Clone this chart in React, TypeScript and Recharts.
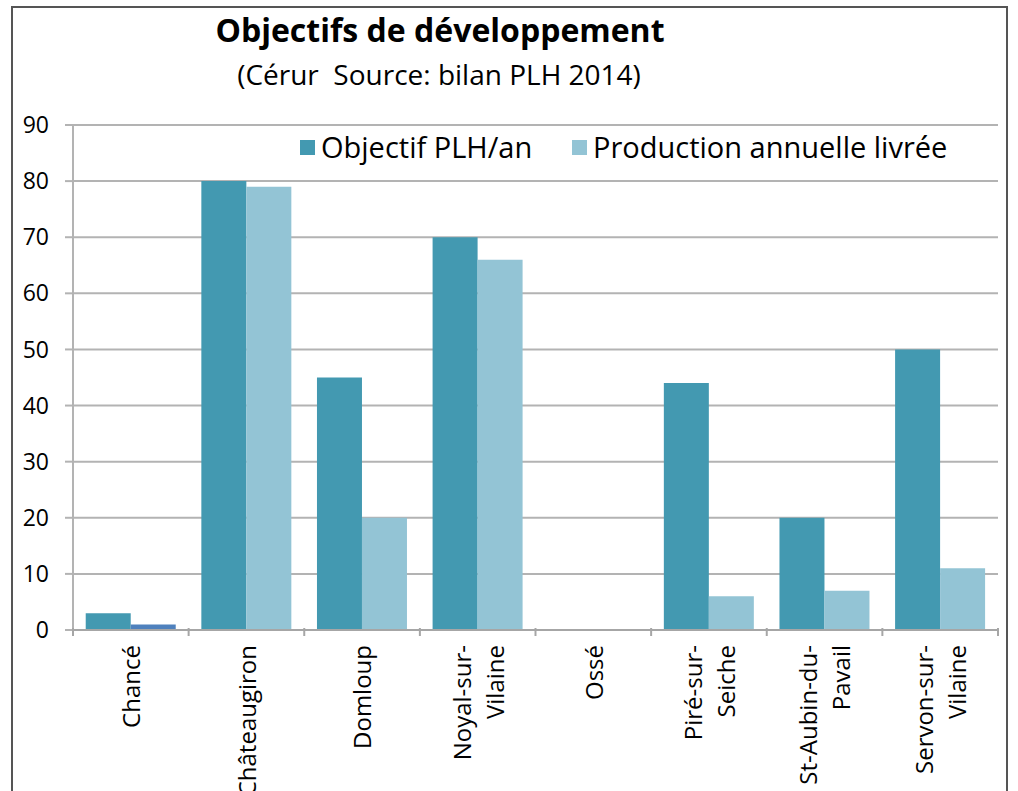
import { BarChart, Bar, XAxis, YAxis, CartesianGrid, Cell } from "recharts";

const communes = [
  "Chancé",
  "Châteaugiron",
  "Domloup",
  "Noyal-sur-\nVilaine",
  "Ossé",
  "Piré-sur-\nSeiche",
  "St-Aubin-du-\nPavail",
  "Servon-sur-\nVilaine",
];
const objectif = [3, 80, 45, 70, 0, 44, 20, 50];
const production = [1, 79, 20, 66, 0, 6, 7, 11];
const yTicks = [0, 10, 20, 30, 40, 50, 60, 70, 80, 90];

const FONT = "'Open Sans', sans-serif";
const DARK = "#4399B1";
const LIGHT = "#93C4D5";
const ODD = "#4F81BD";

const W = 1018;
const H = 800;
const M = { top: 125, right: 20, left: 0, bottom: 0 };
const Y_W = 73;
const X_H = H - M.top - M.bottom - 505;
const STEP = (W - M.left - M.right - Y_W) / communes.length;

const data = communes.map((name, i) => ({
  name,
  objectif: objectif[i],
  production: production[i],
}));

const CategoryTick = (props: any) => {
  const { x, y, payload, index } = props;
  const lines: string[] = String(payload.value).split("\n");
  const lh = 33;
  return (
    <g>
      <line x1={x - STEP / 2} x2={x - STEP / 2} y1={y - 10} y2={y - 2} stroke="#A6A6A6" strokeWidth={2} />
      {index === communes.length - 1 && (
        <line x1={x + STEP / 2} x2={x + STEP / 2} y1={y - 10} y2={y - 2} stroke="#A6A6A6" strokeWidth={2} />
      )}
      <g transform={`translate(${x + 1},${y + 7})`}>
        <text transform="rotate(-90)" textAnchor="end" fontFamily={FONT} fontSize={24} fill="#000">
          {lines.map((l, i) => (
            <tspan key={i} x={0} y={(i - (lines.length - 1) / 2) * lh} dy="0.35em">
              {l}
            </tspan>
          ))}
        </text>
      </g>
    </g>
  );
};

const legendItem = (left: number, color: string, label: string) => (
  <div
    style={{
      position: "absolute",
      left,
      top: 131,
      display: "flex",
      alignItems: "center",
      fontFamily: FONT,
      fontSize: 29,
      color: "#000",
      lineHeight: "32px",
      whiteSpace: "nowrap",
    }}
  >
    <span style={{ width: 15, height: 15, background: color, marginRight: 6 }} />
    {label}
  </div>
);

export default function App() {
  return (
    <div style={{ position: "absolute", left: 0, top: 0, width: W, height: 791, overflow: "hidden", background: "#fff" }}>
      <div
        style={{
          position: "absolute",
          left: 11,
          top: 6,
          width: 997,
          height: 820,
          border: "2px solid #555",
          boxSizing: "border-box",
        }}
      />
      <div
        style={{
          position: "absolute",
          left: 0,
          width: 880,
          top: 8,
          textAlign: "center",
          fontFamily: FONT,
          fontWeight: "bold",
          fontSize: 32,
          color: "#000",
        }}
      >
        Objectifs de développement
      </div>
      <div
        style={{
          position: "absolute",
          left: 0,
          width: 878,
          top: 55,
          textAlign: "center",
          fontFamily: FONT,
          fontSize: 28,
          color: "#000",
          whiteSpace: "pre",
        }}
      >
        {"(Cérur  Source: bilan PLH 2014)"}
      </div>
      <BarChart width={W} height={H} data={data} margin={M} barCategoryGap="11%" barGap={0}>
        <CartesianGrid vertical={false} stroke="#B3B3B3" strokeWidth={2} />
        <XAxis
          dataKey="name"
          interval={0}
          height={X_H}
          axisLine={{ stroke: "#A6A6A6", strokeWidth: 2 }}
          tickLine={false}
          tick={<CategoryTick />}
        />
        <YAxis
          width={Y_W}
          domain={[0, 90]}
          ticks={yTicks}
          interval={0}
          axisLine={{ stroke: "#B3B3B3", strokeWidth: 2 }}
          tickLine={{ stroke: "#B3B3B3", strokeWidth: 2 }}
          tickSize={8}
          tickMargin={16}
          tick={{ fontFamily: FONT, fontSize: 23, fill: "#000" }}
        />
        <Bar dataKey="objectif" name="Objectif PLH/an" fill={DARK} isAnimationActive={false} />
        <Bar dataKey="production" name="Production annuelle livrée" fill={LIGHT} isAnimationActive={false}>
          {data.map((d, i) => (
            <Cell key={i} fill={i === 0 ? ODD : LIGHT} />
          ))}
        </Bar>
      </BarChart>
      {legendItem(300, DARK, "Objectif PLH/an")}
      {legendItem(572, LIGHT, "Production annuelle livrée")}
    </div>
  );
}
